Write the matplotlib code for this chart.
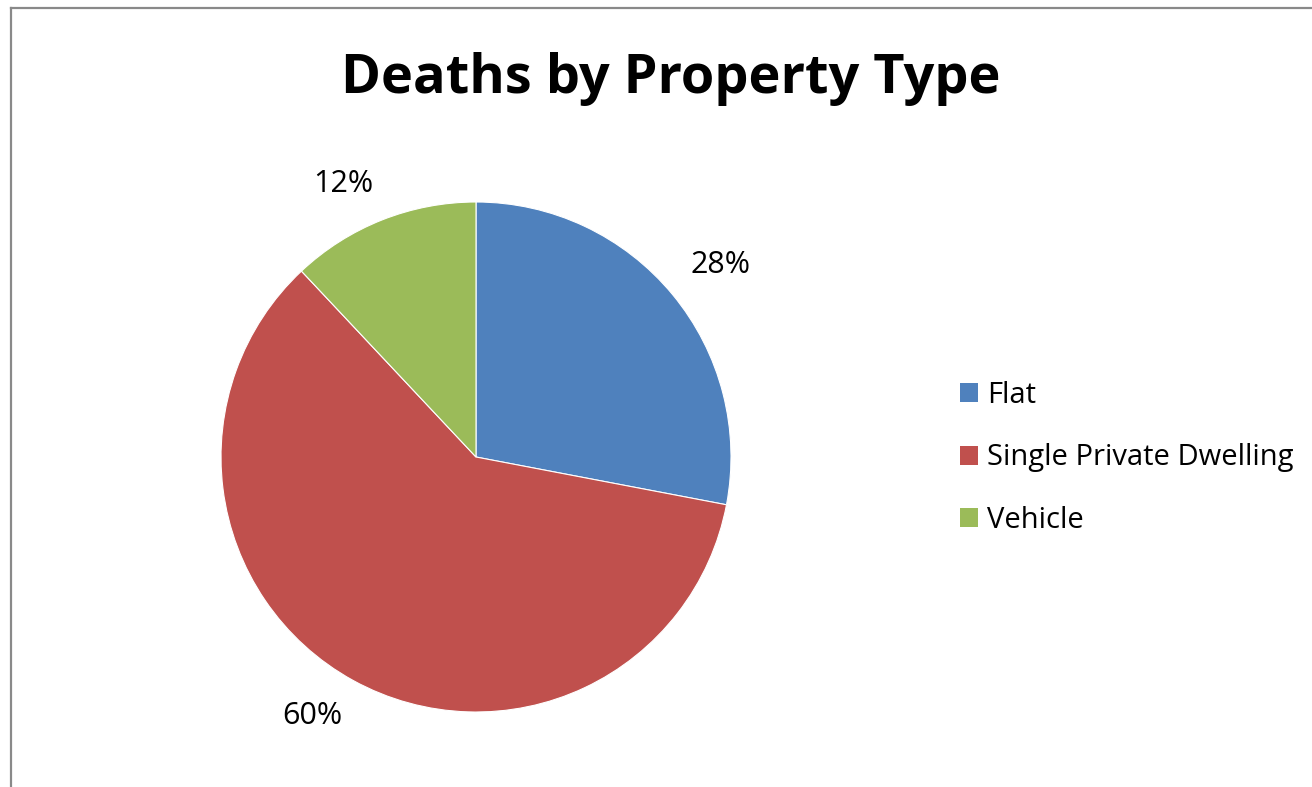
import numpy as np
import matplotlib.pyplot as plt
from matplotlib.patches import Patch
from matplotlib.lines import Line2D

plt.rcParams['font.family'] = ['Open Sans', 'DejaVu Sans']

# data
labels = ['Flat', 'Single Private Dwelling', 'Vehicle']
values = [28, 60, 12]
colors = ['#4F81BD', '#C0504D', '#9BBB59']

W, H = 1312, 787
fig = plt.figure(figsize=(W / 100, H / 100), dpi=100)

# chart frame (only left and top edges visible)
fig.add_artist(Line2D([10.5 / W, 10.5 / W], [0, 1 - 7.5 / H], color='#898989', lw=1.6))
fig.add_artist(Line2D([10.5 / W, 1], [1 - 7.5 / H, 1 - 7.5 / H], color='#898989', lw=1.6))

# pie: centre (476, 457) px, radius 255 px
cx, cy, r = 476, 457, 255
ax = fig.add_axes([(cx - r) / W, (H - cy - r) / H, 2 * r / W, 2 * r / H])
wedges, texts = ax.pie(
    values, colors=colors, startangle=90, counterclock=False, radius=1,
    wedgeprops=dict(edgecolor='white', linewidth=0.8))
ax.set_xlim(-1, 1)
ax.set_ylim(-1, 1)
ax.set_aspect('equal')
ax.axis('off')

# percentage labels just outside each wedge ("outside end")
total = sum(values)
for w, v in zip(wedges, values):
    mid = np.deg2rad((w.theta1 + w.theta2) / 2)
    x, y = 1.09 * np.cos(mid), 1.09 * np.sin(mid)
    ax.text(x, y, f'{v / total * 100:.0f}%', fontsize=22,
            ha='left' if x > 0 else 'right', va='bottom' if y > 0 else 'top',
            clip_on=False)

fig.text(671 / W, 1 - 79 / H, 'Deaths by Property Type', ha='center', va='center',
         fontsize=39, fontweight='bold')

handles = [Patch(facecolor=c, edgecolor='none') for c in colors]
fig.legend(handles, labels, loc='center left', bbox_to_anchor=(960 / W, 1 - 458 / H),
           frameon=False, fontsize=21, handlelength=0.62, handleheight=0.62,
           handletextpad=0.3, labelspacing=1.15, borderpad=0, borderaxespad=0)

fig.savefig('out.png', dpi=100)
